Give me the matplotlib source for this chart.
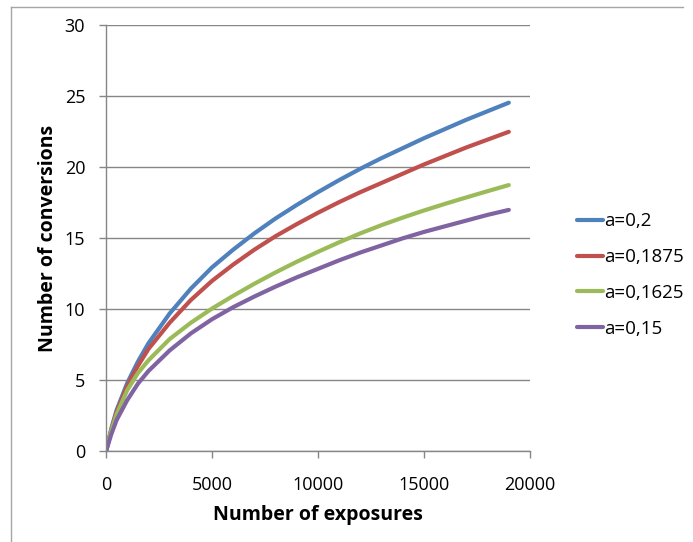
import numpy as np
import matplotlib.pyplot as plt
from matplotlib.lines import Line2D

# exposures (x) and conversions for each value of a
exposures = [0, 250, 500, 1000, 1500, 2000, 3000, 4000, 5000, 6000, 7000, 8000, 9000,
             10000, 11000, 12000, 13000, 14000, 15000, 16000, 17000, 18000, 19000]
conv_a_0200 = [0, 1.6, 2.9, 4.8, 6.3, 7.6, 9.7, 11.45, 12.95, 14.2, 15.35, 16.4, 17.35,
               18.25, 19.1, 19.9, 20.65, 21.35, 22.05, 22.7, 23.35, 23.95, 24.55]
conv_a_01875 = [0, 1.5, 2.75, 4.6, 6.0, 7.2, 9.05, 10.65, 12.0, 13.15, 14.2, 15.15, 16.0,
                16.8, 17.55, 18.25, 18.9, 19.55, 20.2, 20.8, 21.4, 21.95, 22.5]
conv_a_01625 = [0, 1.45, 2.6, 4.3, 5.5, 6.4, 7.9, 9.05, 10.05, 10.95, 11.8, 12.6, 13.35,
                14.05, 14.72, 15.35, 15.93, 16.46, 16.96, 17.43, 17.88, 18.32, 18.75]
conv_a_0150 = [0, 1.2, 2.2, 3.6, 4.75, 5.65, 7.1, 8.3, 9.3, 10.15, 10.9, 11.6, 12.25,
               12.85, 13.45, 14.0, 14.5, 15.0, 15.45, 15.85, 16.25, 16.65, 17.0]

labels = ['a=0,2', 'a=0,1875', 'a=0,1625', 'a=0,15']
series = [conv_a_0200, conv_a_01875, conv_a_01625, conv_a_0150]
colors = ['#4F81BD', '#C0504D', '#9BBB59', '#8064A2']

plt.rcParams['font.family'] = ['Open Sans', 'DejaVu Sans']

W, H = 693, 542
fig = plt.figure(figsize=(W / 100, H / 100), dpi=100)
ax = fig.add_axes([106 / W, 1 - 451.3 / H, (530 - 106) / W, (451.3 - 25.3) / H])

for y, lab, c in zip(series, labels, colors):
    ax.plot(exposures, y, color=c, lw=3.0, label=lab, solid_capstyle='round')

ax.set_xlim(0, 20000)
ax.set_ylim(0, 30)
ax.set_xticks([0, 5000, 10000, 15000, 20000])
ax.set_yticks(range(0, 31, 5))
ax.grid(axis='y', color='#868686', lw=1)
ax.set_axisbelow(True)

for side in ['top', 'right']:
    ax.spines[side].set_visible(False)
for side in ['left', 'bottom']:
    ax.spines[side].set_color('#868686')
    ax.spines[side].set_linewidth(1)
ax.tick_params(axis='both', colors='#868686', length=5, width=1, labelsize=13,
               labelcolor='black', direction='out')
ax.tick_params(axis='x', pad=12.5)
ax.tick_params(axis='y', pad=10)

ax.set_xlabel('Number of exposures', fontsize=14, fontweight='bold', labelpad=8)
ax.set_ylabel('Number of conversions', fontsize=14, fontweight='bold', labelpad=5)

fig.legend(loc='center left', bbox_to_anchor=(577 / W, 1 - 275 / H), frameon=False,
           fontsize=13.5, handlelength=1.4, handletextpad=0.05, labelspacing=0.95,
           borderaxespad=0, borderpad=0)

# outer chart frame (left and top edges visible)
fig.add_artist(Line2D([11 / W, 11 / W], [0, 1 - 7 / H], color='#a6a6a6', lw=1))
fig.add_artist(Line2D([11 / W, 683 / W], [1 - 7 / H, 1 - 7 / H], color='#a6a6a6', lw=1))

fig.savefig('out.png', dpi=100)
